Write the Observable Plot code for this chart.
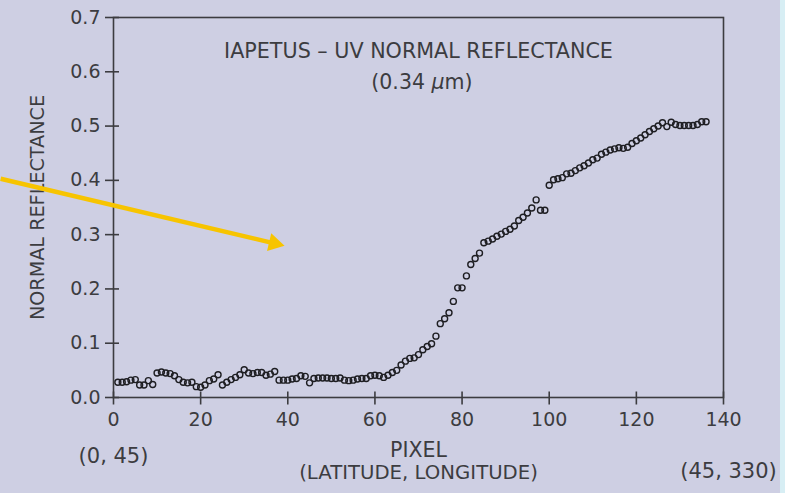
<!DOCTYPE html>
<html><head><meta charset="utf-8">
<script src="https://cdn.jsdelivr.net/npm/d3@7"></script>
<script src="https://cdn.jsdelivr.net/npm/@observablehq/plot@0.6"></script>
<style>
html,body{margin:0;padding:0;}
body{width:785px;height:493px;overflow:hidden;background:#cecfe3;}
#wrap{position:relative;width:785px;height:493px;}
#chart{position:absolute;left:0;top:0;}
#strip{position:absolute;right:0;top:0;width:5px;height:493px;background:#d7eef4;}
</style></head><body><div id="wrap"><div id="chart"></div><div id="strip"></div></div>
<script>
// ---- data ----
const pixels = [1,2,3,4,5,6,7,8,9,10,11,12,13,14,15,16,17,18,19,20,21,22,23,24,25,26,27,28,29,30,
  31,32,33,34,35,36,37,38,39,40,41,42,43,44,45,46,47,48,49,50,51,52,53,54,55,56,57,58,59,60,
  61,62,63,64,65,66,67,68,69,70,71,72,73,74,75,76,77,78,79,80,81,82,83,84,85,86,87,88,89,90,
  91,92,93,94,95,96,97,98,99,100,101,102,103,104,105,106,107,108,109,110,111,112,113,114,115,116,117,118,119,120,
  121,122,123,124,125,126,127,128,129,130,131,132,133,134,135,136];
const reflectance = [0.028,0.028,0.029,0.032,0.033,0.023,0.023,0.031,0.024,0.045,
  0.047,0.045,0.044,0.040,0.033,0.028,0.027,0.028,0.020,0.019,
  0.023,0.031,0.034,0.042,0.023,0.028,0.033,0.037,0.042,0.051,
  0.045,0.044,0.046,0.046,0.041,0.043,0.048,0.032,0.032,0.032,
  0.034,0.035,0.040,0.039,0.027,0.035,0.036,0.036,0.036,0.035,
  0.035,0.036,0.032,0.031,0.032,0.034,0.035,0.035,0.040,0.041,
  0.040,0.037,0.041,0.046,0.050,0.060,0.067,0.072,0.073,0.079,
  0.088,0.094,0.099,0.113,0.136,0.145,0.156,0.177,0.202,0.202,
  0.224,0.245,0.256,0.266,0.285,0.288,0.292,0.297,0.301,0.306,
  0.310,0.316,0.326,0.332,0.340,0.349,0.364,0.345,0.345,0.391,
  0.401,0.403,0.405,0.412,0.413,0.418,0.423,0.427,0.432,0.438,
  0.441,0.448,0.452,0.456,0.458,0.460,0.459,0.461,0.468,0.473,
  0.478,0.484,0.490,0.495,0.500,0.506,0.499,0.507,0.503,0.501,
  0.501,0.501,0.501,0.503,0.508,0.508];
const xTicks = [0,20,40,60,80,100,120,140];
const yTicks = [0,0.1,0.2,0.3,0.4,0.5,0.6,0.7];
const titleText = "IAPETUS \u2013 UV NORMAL REFLECTANCE";
const subtitleA = "(0.34 ";
const subtitleMu = "\u03bc";
const subtitleB = "m)";
const xLabel = "PIXEL";
const xSubLabel = "(LATITUDE, LONGITUDE)";
const yLabel = "NORMAL REFLECTANCE";
const startLabel = [{pixel: 0, text: "(0, 45)"}];
const endLabel = [{pixel: 140, text: "(45, 330)"}];
const arrowLine = [{x1: -25.9, y1: 0.403, x2: 36.9, y2: 0.284}];
const arrowHead = [{pixel: 36.9, value: 0.284}];

// ---- chart ----
const data = pixels.map((p, i) => ({pixel: p, value: reflectance[i]}));
const ink = "#3c3c40";
const font = "'DejaVu Sans', sans-serif";
const w = 400;

const chart = Plot.plot({
  width: 785, height: 493,
  marginLeft: 113, marginRight: 62, marginTop: 17, marginBottom: 96,
  style: {background: "transparent", fontFamily: font, fontSize: "19px", color: ink, overflow: "visible"},
  x: {domain: [0, 140]},
  y: {domain: [0, 0.7]},
  marks: [
    Plot.frame({stroke: ink, strokeWidth: 1.6}),
    Plot.axisX({ticks: xTicks, tickSize: 13, dy: -5.5, tickFormat: () => "", label: null, stroke: ink, strokeWidth: 1.6}),
    Plot.axisX({ticks: xTicks, tickSize: 0, tickPadding: 15, tickFormat: d3.format("d"), label: null, fill: ink, fontWeight: w}),
    Plot.axisY({ticks: yTicks, tickSize: 14, dx: 6, tickFormat: () => "", label: null, stroke: ink, strokeWidth: 1.6}),
    Plot.axisY({ticks: yTicks, tickSize: 0, tickPadding: 13, tickFormat: d3.format(".1f"), label: null, fill: ink, fontWeight: w}),
    Plot.dot(data, {x: "pixel", y: "value", r: 3, stroke: "#1e1e22", strokeWidth: 1.4, fill: "none"}),
    Plot.text([titleText], {frameAnchor: "top", lineAnchor: "bottom", dy: 40, fontSize: 20.7, fill: ink, fontWeight: w}),
    Plot.text([subtitleA], {frameAnchor: "top", lineAnchor: "bottom", dy: 71, dx: 13, textAnchor: "end", fontSize: 20.5, fill: ink, fontWeight: w}),
    Plot.text([subtitleMu], {frameAnchor: "top", lineAnchor: "bottom", dy: 71, dx: 13, textAnchor: "start", fontSize: 20.5, fill: ink, fontWeight: w, fontStyle: "italic"}),
    Plot.text([subtitleB], {frameAnchor: "top", lineAnchor: "bottom", dy: 71, dx: 26, textAnchor: "start", fontSize: 20.5, fill: ink, fontWeight: w}),
    Plot.text([xLabel], {frameAnchor: "bottom", lineAnchor: "bottom", dy: 59, fontSize: 20.5, fill: ink, fontWeight: w}),
    Plot.text([xSubLabel], {frameAnchor: "bottom", lineAnchor: "bottom", dy: 81, fontSize: 19.7, fill: ink, fontWeight: w}),
    Plot.text([yLabel], {frameAnchor: "left", textAnchor: "middle", lineAnchor: "bottom", rotate: -90, dx: -70, fontSize: 19.2, fill: ink, fontWeight: w}),
    Plot.text(startLabel, {x: "pixel", text: "text", frameAnchor: "bottom", lineAnchor: "bottom", dy: 65, fontSize: 21, fill: ink, fontWeight: w}),
    Plot.text(endLabel, {x: "pixel", text: "text", frameAnchor: "bottom", lineAnchor: "bottom", dy: 80, dx: 5, fontSize: 21, fill: ink, fontWeight: w}),
    Plot.link(arrowLine, {x1: "x1", y1: "y1", x2: "x2", y2: "y2", stroke: "#f7c400", strokeWidth: 4.5}),
    Plot.dot(arrowHead, {x: "pixel", y: "value", symbol: "triangle", r: 6.8, fill: "#f7c400", stroke: "none", rotate: 103.3})
  ]
});
document.getElementById("chart").appendChild(chart);
</script>
</body></html>
